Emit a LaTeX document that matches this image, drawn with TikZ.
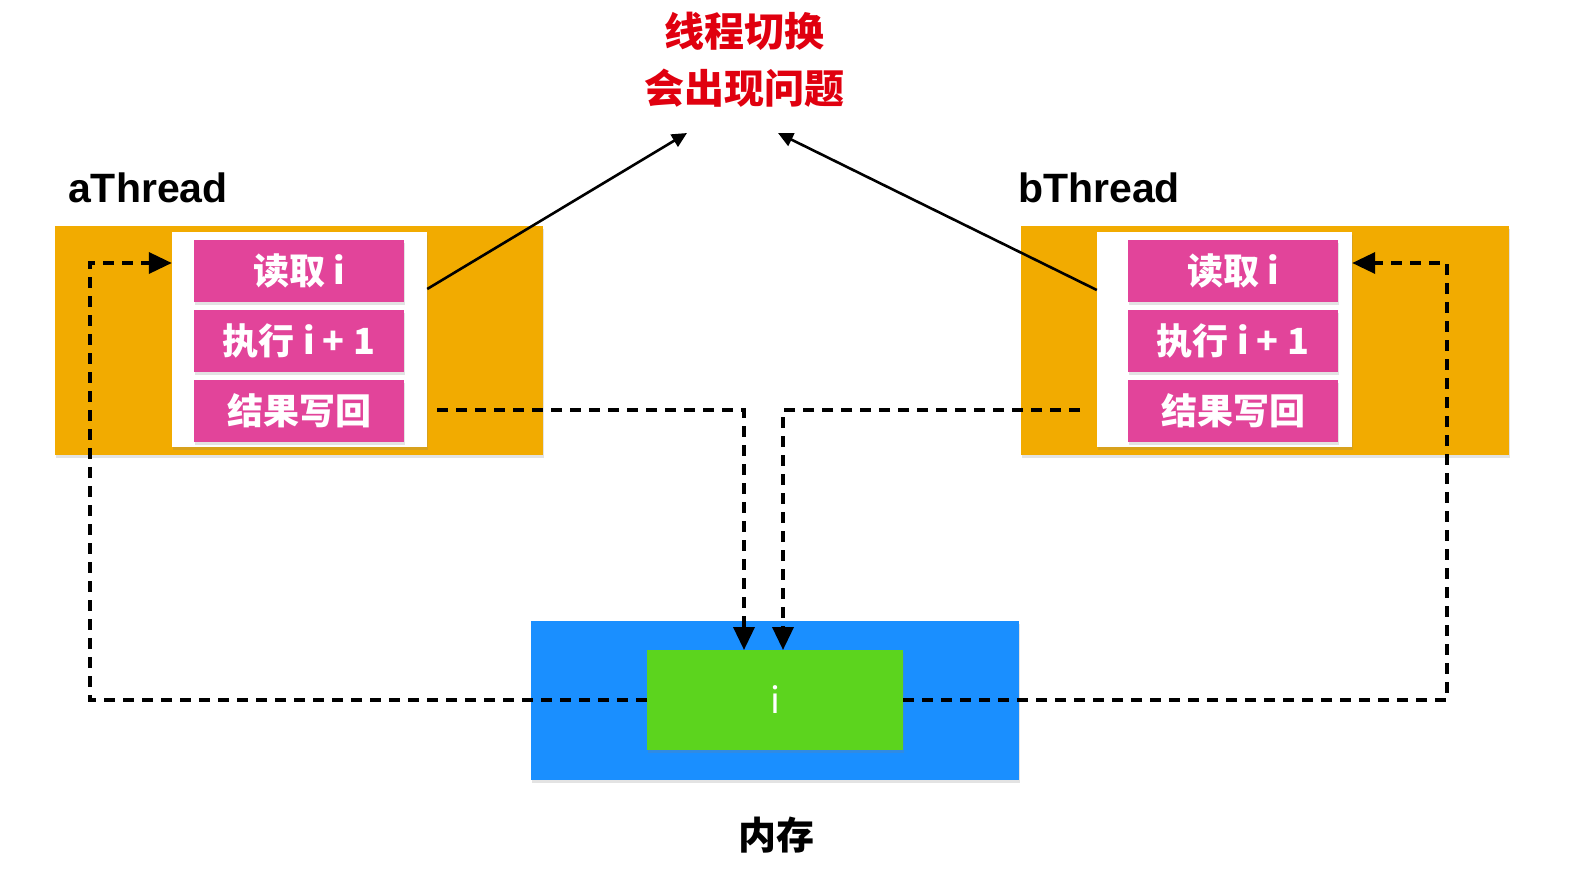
\documentclass[tikz,border=0pt]{standalone}
\usepackage{fontspec}
\newfontfamily\cjk{Noto Sans CJK SC}
\newfontfamily\lat{Liberation Sans}
\usetikzlibrary{arrows.meta,shadows}
\definecolor{orangebg}{HTML}{F2AB00}
\definecolor{pinkbox}{HTML}{E2449A}
\definecolor{bluebg}{HTML}{1A8FFF}
\definecolor{greenbox}{HTML}{5CD41E}
\definecolor{titlered}{HTML}{E0000F}
\tikzset{
  shd/.style={drop shadow={opacity=0.22,shadow xshift=1bp,shadow yshift=-3bp}},
  orangeframe/.style={fill=orangebg,draw=none,minimum width=488bp,minimum height=229bp,inner sep=0pt,shd},
  whitepanel/.style={fill=white,draw=none,minimum width=255bp,minimum height=215bp,inner sep=0pt,shd},
  stepbox/.style={fill=pinkbox,draw=none,minimum width=210bp,minimum height=62bp,inner sep=0pt,text=white,font=\cjk\bfseries\fontsize{36bp}{40bp}\selectfont,shd},
  threadlabel/.style={font=\lat\bfseries\fontsize{41bp}{44bp}\selectfont,anchor=base west,inner sep=0pt},
  dashconn/.style={line width=3.6bp,dash pattern=on 11bp off 8bp,-{Triangle[length=23bp,width=21bp]}},
  solidarrow/.style={line width=2.6bp,-{Triangle[length=15bp,width=14bp]}}
}
\begin{document}
\begin{tikzpicture}[x=1bp,y=-1bp]
\useasboundingbox (0,0) rectangle (1576,878);
% title
\node[text=titlered,font=\cjk\bfseries\fontsize{40bp}{57bp}\selectfont,align=center] (title) at (744,60) {线程切换\\会出现问题};
\coordinate (tipA) at (687,133);
\coordinate (tipB) at (778,133);
% thread a
\node[threadlabel] (alabel) at (68,202) {aThread};
\node[orangeframe] (aframe) at (299,340.5) {};
\node[whitepanel] (apanel) at (299.5,339.5) {};
\node[stepbox] (a1) at (299,271) {读取 i};
\node[stepbox] (a2) at (299,341) {执行 i + 1};
\node[stepbox] (a3) at (299,410.5) {结果写回};
% thread b
\node[threadlabel] (blabel) at (1018,202) {bThread};
\node[orangeframe] (bframe) at (1265,340.5) {};
\node[whitepanel] (bpanel) at (1224.5,339.5) {};
\node[stepbox] (b1) at (1233,271) {读取 i};
\node[stepbox] (b2) at (1233,341) {执行 i + 1};
\node[stepbox] (b3) at (1233,410.5) {结果写回};
% memory
\node[fill=bluebg,draw=none,minimum width=488bp,minimum height=159bp,inner sep=0pt,shd] (mem) at (775,700.5) {};
\node[fill=greenbox,draw=none,minimum width=256bp,minimum height=100bp,inner sep=0pt,text=white,font=\cjk\fontsize{36bp}{40bp}\selectfont,shd] (ival) at (775,700) {i};
\node[font=\cjk\bfseries\fontsize{38bp}{42bp}\selectfont] (memlabel) at (776,835) {内存};
% solid arrows
\draw[solidarrow] (apanel.east |- 0,289) -- (tipA);
\draw[solidarrow] (bpanel.west |- 0,290) -- (tipB);
% dashed connectors
\coordinate (aturn) at (90,263);
\coordinate (bturn) at (1447,263);
\coordinate (m1) at (744,650);
\coordinate (m2) at (783,650);
\coordinate (aout) at (437,410);
\coordinate (bout) at (1080,410);
\draw[dashconn] (ival.west) -| (aturn) -- (apanel.west |- aturn);
\draw[dashconn] (ival.east) -| (bturn) -- (bpanel.east |- bturn);
\draw[dashconn] (aout) -| (m1);
\draw[dashconn] (bout) -| (m2);
\end{tikzpicture}
\end{document}
